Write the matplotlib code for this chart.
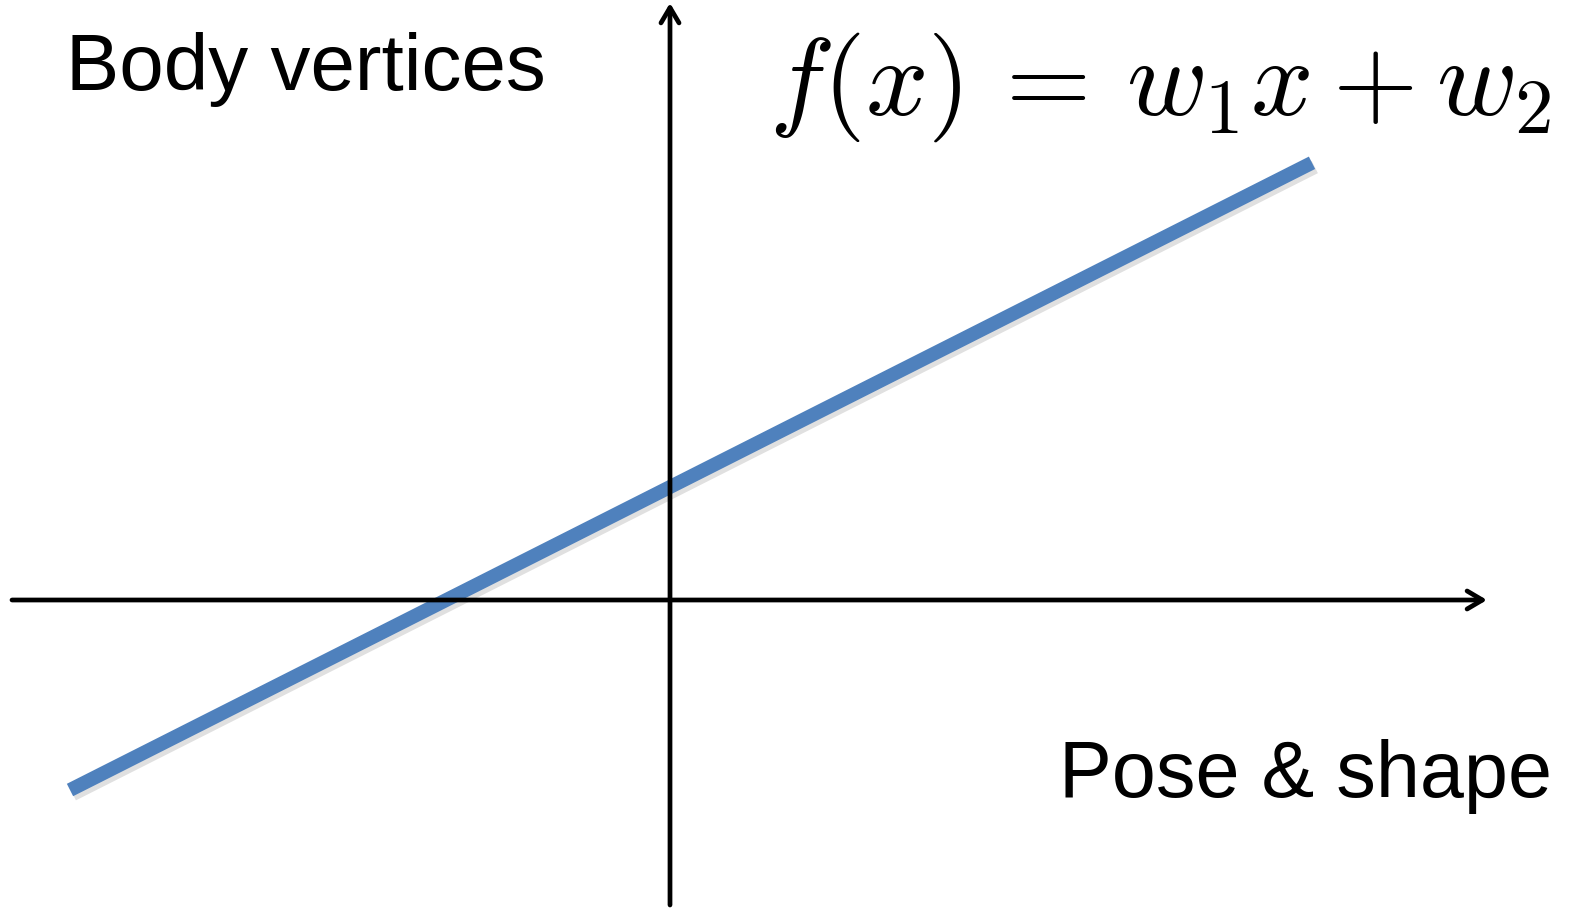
import numpy as np
import matplotlib.pyplot as plt
import matplotlib.patheffects as pe

plt.rcParams['font.family'] = ['Liberation Sans', 'DejaVu Sans']
plt.rcParams['mathtext.fontset'] = 'cm'

# line parameters f(x) = w1*x + w2
w1 = 0.505
w2 = 1.13
x_range = [-6.0, 6.42]

# axes extents (data units)
x_axis = [-6.58, 8.17]
y_axis = [-3.05, 5.97]

fig = plt.figure(figsize=(15.73, 9.10), dpi=100)
ax = fig.add_axes([0, 0, 1, 1])
ax.set_xlim(-6.70, 9.03)
ax.set_ylim(-3.10, 6.00)
ax.axis('off')

# coordinate axes with open arrowheads
arrow = dict(arrowstyle='->,head_length=1.1,head_width=0.65', color='black',
             lw=3.4, shrinkA=0, shrinkB=0)
ax.annotate('', xy=(x_axis[1], 0), xytext=(x_axis[0], 0), arrowprops=arrow)
ax.annotate('', xy=(0, y_axis[1]), xytext=(0, y_axis[0]), arrowprops=arrow)

# the linear function
xs = np.array(x_range)
ax.plot(xs, w1 * xs + w2, color='#4F81BD', lw=10, solid_capstyle='butt',
        path_effects=[pe.SimpleLineShadow(offset=(2, -3), alpha=0.12), pe.Normal()])

ax.text(-6.04, 5.10, 'Body vertices', fontsize=57.5, ha='left', va='baseline')
ax.text(8.82, -1.97, 'Pose & shape', fontsize=57, ha='right', va='baseline')
ax.text(8.82, 4.85, r'$f(x)\,=\,w_1 x + w_2$', fontsize=79, ha='right', va='baseline')

fig.savefig('out.png', dpi=100)
